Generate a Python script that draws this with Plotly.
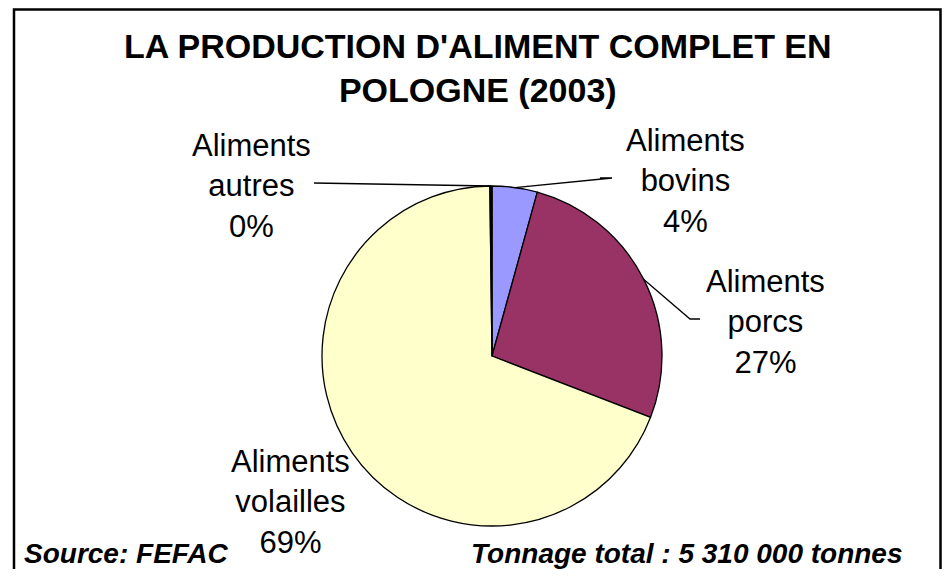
import math
import plotly.graph_objects as go

# data (share of total compound feed, %)
labels = ["Aliments bovins", "Aliments porcs", "Aliments volailles", "Aliments autres"]
values = [4.3, 26.6, 69.0, 0.2]
colors = ["#9999FF", "#993366", "#FFFFCC", "#000000"]
title_text = "LA PRODUCTION D'ALIMENT COMPLET EN<br>POLOGNE (2003)"
source_text = "Source: FEFAC"
total_text = "Tonnage total : 5 310 000 tonnes"

OFF = 8  # default body margin of the html page
W, H = 950 - 2 * OFF, 577 - 2 * OFF  # keep the page from overflowing the window
FONT = "Liberation Sans, Arial, sans-serif"

# pie placement in window pixels
cx, cy, R = 492, 356, 170


def px(x):
    return (x - OFF) / W


def py(y):
    return 1 - (y - OFF) / H


fig = go.Figure(
    go.Pie(
        labels=labels,
        values=values,
        sort=False,
        direction="clockwise",
        rotation=0,
        marker=dict(colors=colors, line=dict(color="black", width=1.3)),
        textinfo="none",
        hoverinfo="label+percent",
        showlegend=False,
        domain=dict(x=[px(cx - R), px(cx + R)], y=[py(cy + R), py(cy - R)]),
    )
)

total = sum(values)
pct = [round(v / total * 100) for v in values]

# label anchor (centre of text block) and leader end point, per slice
label_pos = [(685, 181), (765, 322), (290, 502), (252, 186)]
leader_end = [(600, 178), (700, 319), None, (314, 183)]
leader_knee = [(612, 178), (690, 319), None, None]

cum = 0
for i, v in enumerate(values):
    mid = (cum + v / 2) / total * 2 * math.pi
    cum += v
    short = labels[i].split(" ", 1)
    fig.add_annotation(
        x=px(label_pos[i][0]), y=py(label_pos[i][1]), xref="paper", yref="paper",
        text=f"{short[0]}<br>{short[1]}<br>{pct[i]}%", showarrow=False,
        xanchor="center", yanchor="middle", align="center",
        font=dict(family=FONT, size=31, color="black"),
    )
    if leader_end[i] is None:
        continue
    ex, ey = cx + R * math.sin(mid), cy - R * math.cos(mid)
    pts = [(ex, ey)]
    if leader_knee[i]:
        pts.append(leader_knee[i])
    pts.append(leader_end[i])
    path = "M " + " L ".join(f"{px(a)},{py(b)}" for a, b in pts)
    fig.add_shape(type="path", path=path, xref="paper", yref="paper",
                  line=dict(color="black", width=1.3))

fig.add_annotation(
    x=px(478), y=py(68), xref="paper", yref="paper", text=f"<b>{title_text}</b>",
    showarrow=False, xanchor="center", yanchor="middle", align="center",
    font=dict(family=FONT, size=34, color="black"),
)
fig.add_annotation(
    x=px(22), y=py(553), xref="paper", yref="paper", text=f"<b><i>{source_text}</i></b>",
    showarrow=False, xanchor="left", yanchor="middle",
    font=dict(family=FONT, size=28, color="black"),
)
fig.add_annotation(
    x=px(905), y=py(553), xref="paper", yref="paper", text=f"<b><i>{total_text}</i></b>",
    showarrow=False, xanchor="right", yanchor="middle",
    font=dict(family=FONT, size=28, color="black"),
)

# chart frame (top/right edges pulled inside the drawable area)
fig.add_shape(type="rect", xref="paper", yref="paper",
              x0=px(14), x1=px(940.5), y0=py(600), y1=py(9.5),
              line=dict(color="black", width=2.5))

fig.update_layout(
    width=W, height=H,
    margin=dict(l=0, r=0, t=0, b=0),
    paper_bgcolor="white", plot_bgcolor="white",
)

fig.write_html("out.html")
